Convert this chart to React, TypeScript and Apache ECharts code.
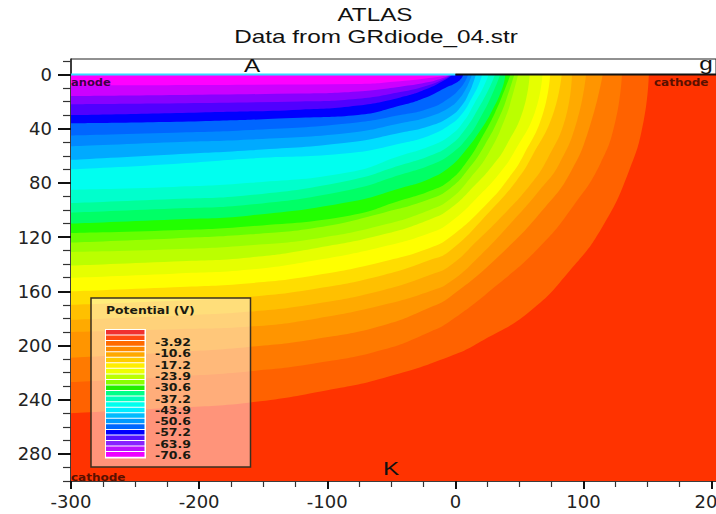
import React, { useEffect, useRef } from "react";
import * as echarts from "echarts";

// Axis ticks
const xMajorTicks = [-300, -200, -100, 0, 100, 200];
const xMinorTicks = [-275, -250, -225, -175, -150, -125, -75, -50, -25, 25, 50, 75, 125, 150, 175];
const yMajorTicks = [0, 40, 80, 120, 160, 200, 240, 280];
const yMinorTicks = [-10, 10, 20, 30, 50, 60, 70, 90, 100, 110, 130, 140, 150, 170, 180, 190, 210, 220, 230, 250, 260, 270, 290, 300];

// Substrate: whole device below the surface
const base = [[-300, 300], [203.4, 300]];

// Contour boundaries [x, depth], outermost first
const k0 = [[-300, 250], [-220, 246], [-160, 242], [-100, 233], [-56, 224], [-4, 208], [22, 196], [58, 175], [90, 144], [115, 112], [136, 70], [147, 34], [151, 0]];
const k1 = [[-300, 227], [-220, 223], [-160, 219], [-108, 213], [-56, 203], [-20, 190], [-4, 182], [33, 155], [66, 127], [92, 97], [113, 66], [125, 34], [130, 0]];
const k2 = [[-300, 209], [-220, 205], [-160, 201], [-108, 195], [-56, 185], [-20, 172], [-4, 164], [35, 133], [70, 98], [90, 72], [105, 38], [115, 0]];
const k3 = [[-300, 190], [-220, 188], [-160, 186], [-108, 180], [-56, 170], [-20, 160], [-4, 153], [20, 133], [43, 110], [66, 85], [81, 66], [95, 34], [102, 0]];
const k4 = [[-300, 181], [-220, 178], [-160, 175], [-108, 169], [-56, 159], [-20, 148], [-4, 141], [20, 120], [35, 106], [58, 82], [72, 62], [86, 32], [91, 0]];
const k5 = [[-300, 170], [-220, 167], [-160, 164], [-108, 158], [-56, 148], [-20, 137], [-4, 130], [27, 101], [48, 78], [60, 60], [76, 30], [83, 0]];
const k6 = [[-300, 160], [-220, 157], [-160, 154], [-108, 148], [-56, 138], [-20, 128], [-4, 120], [25, 95], [42, 76], [53, 60], [68, 30], [74, 0]];
const k7 = [[-300, 150], [-220, 147], [-160, 144], [-108, 137], [-56, 127], [-20, 117], [-4, 109], [20, 88], [36, 71], [46, 57], [62, 28], [68, 0]];
const k8 = [[-300, 141], [-220, 138], [-160, 135], [-108, 128], [-56, 118], [-20, 107], [-4, 99], [15, 82], [30, 66], [40, 52], [53, 26], [58, 0]];
const k9 = [[-300, 131], [-220, 129], [-160, 126], [-108, 121], [-56, 111], [-20, 100], [-4, 92], [12, 76], [26, 58], [39, 32], [45, 14], [49, 0]];
const k10 = [[-300, 124], [-220, 121], [-160, 118], [-108, 113], [-56, 102], [-20, 92], [-4, 84], [10, 70], [23, 52], [35, 30], [42, 12], [46, 0]];
const k11 = [[-300, 117], [-220, 115], [-160, 112], [-82, 104], [-43, 93], [-20, 86], [-4, 78], [10, 63], [21, 46], [31, 28], [39, 10], [43, 0]];
const k12 = [[-300, 110], [-220, 107], [-160, 104], [-82, 94], [-43, 84], [-20, 77], [-4, 68], [8, 56], [19, 42], [29, 26], [37, 9], [39, 0]];
const k13 = [[-300, 102], [-220, 99], [-160, 96], [-82, 85], [-43, 74], [-20, 67], [-4, 59], [10, 46], [20, 31], [29, 14], [35, 0]];
const k14 = [[-300, 95], [-220, 92], [-160, 89], [-82, 78], [-43, 67], [-20, 60], [-4, 52], [8, 40], [18, 25], [26, 11], [31, 0]];
const k15 = [[-300, 85], [-220, 83], [-160, 80], [-82, 72], [-43, 60], [-20, 53], [-4, 45], [7, 34], [15, 21], [22, 9], [26, 0]];
const k16 = [[-300, 70], [-220, 66], [-160, 62], [-82, 58], [-43, 51], [-20, 45], [-4, 37], [6, 28], [13, 17], [18, 8], [21, 0]];
const k17 = [[-300, 63], [-220, 59], [-160, 56], [-82, 50], [-43, 43], [-20, 38], [-4, 31], [5, 23], [11, 13], [14, 6], [16, 0]];
const k18 = [[-300, 53], [-220, 50], [-160, 48], [-82, 43], [-43, 36], [-20, 31], [-4, 24], [3, 18], [8, 11], [11, 5], [13, 0]];
const k19 = [[-300, 45], [-220, 43], [-160, 41], [-82, 36], [-43, 30], [-20, 25], [-4, 17], [3, 11], [7, 6], [10, 0]];
const k20 = [[-300, 36], [-199, 34.5], [-121, 32], [-76, 30], [-43, 23], [-23, 17], [-8, 10], [1, 6], [5, 2.5], [6, 0]];
const k21 = [[-300, 30], [-199, 28], [-121, 26], [-76, 23], [-43, 17], [-23, 11], [-8, 4], [-2, 0]];
const k22 = [[-300, 22], [-121, 20], [-76, 18], [-43, 13], [-23, 8.5], [-8, 3], [-3, 0]];
const k23 = [[-300, 16], [-121, 14], [-76, 12.5], [-43, 9], [-23, 6], [-8, 2], [-4, 0]];
const k24 = [[-300, 8], [-76, 7], [-43, 5], [-23, 3], [-8, 1], [-5, 0]];

const contours = [base, k0, k1, k2, k3, k4, k5, k6, k7, k8, k9, k10, k11, k12, k13, k14, k15, k16, k17, k18, k19, k20, k21, k22, k23, k24];
const bandColors = [
  "#ff3300", "#ff6200", "#ff7a00", "#ff9500", "#ffaa00", "#ffc000", "#ffdd00", "#ffff00", "#e6ff00", "#bbff00",
  "#99ff00", "#66ff00", "#22ff00", "#00ff66", "#00ff99", "#00ffcc", "#00fff0", "#00ddff", "#00aaff", "#0088ff",
  "#0066ff", "#0000ff", "#5000ff", "#8800ff", "#cc00ff", "#ff00ff",
];

// Electrode surface
const anodeLine = [[-300, 0], [0, 0]];
const cathodeLine = [[0, 0], [203.4, 0]];

// Legend
const legendLabels = ["-3.92", "-10.6", "-17.2", "-23.9", "-30.6", "-37.2", "-43.9", "-50.6", "-57.2", "-63.9", "-70.6"];
const legendColors = [
  "#f03030", "#ff4a10", "#ff6a00", "#ff8a00", "#ffa800", "#ffcc00", "#ffee00", "#eeff00", "#bbff00", "#88ff00",
  "#22ee00", "#00ff88", "#00ffbb", "#00ffee", "#00eeff", "#00bbff", "#0099ff", "#0066ff", "#0000ff", "#5511ff",
  "#8822ff", "#bb11ff", "#ee00ff",
];

const sansFont = "Liberation Sans";
const tickFont = "DejaVu Sans";
const legendFont = "DejaVu Sans";

const stretchedText = (text: string, x: number, y: number, size = 18) => ({
  type: "text",
  x,
  y,
  scaleX: 1.35,
  z: 100,
  style: { text, fill: "#111", font: `${size}px "${sansFont}"`, textAlign: "center", textVerticalAlign: "middle" },
});

const boldLabel = (text: string, x: number, y: number, fill: string, size = 10, scaleX = 1) => ({
  type: "text",
  x,
  y,
  scaleX,
  z: 100,
  style: { text, fill, font: `bold ${size}px "${legendFont}"`, textAlign: "left", textVerticalAlign: "middle" },
});

export default function App() {
  const ref = useRef<HTMLDivElement>(null);
  useEffect(() => {
    const chart = echarts.init(ref.current!, null, { renderer: "svg" });
    const sharedX = { type: "value", min: -300, max: 203.4, position: "bottom", splitLine: { show: false } };
    const sharedY = { type: "value", min: -11.4, max: 300, inverse: true, position: "left", splitLine: { show: false } };
    chart.setOption({
      animation: false,
      backgroundColor: "#fff",
      grid: {
        left: 71, right: 0, top: 59, bottom: 33, show: true, borderColor: "#222", borderWidth: 1,
        backgroundColor: "transparent", outerBoundsMode: "none", containLabel: false,
      },
      xAxis: [
        {
          ...sharedX,
          axisLine: { onZero: false, lineStyle: { color: "#222", width: 1.5 } },
          axisTick: { customValues: xMajorTicks, length: 8, lineStyle: { color: "#111", width: 2 } },
          axisLabel: { customValues: xMajorTicks, margin: 11, color: "#222", fontSize: 18, fontFamily: tickFont, hideOverlap: false },
        },
        {
          ...sharedX,
          axisLine: { show: false, onZero: false },
          axisTick: { customValues: xMinorTicks, length: 6, lineStyle: { color: "#333", width: 1.2 } },
          axisLabel: { show: false },
        },
      ],
      yAxis: [
        {
          ...sharedY,
          axisLine: { onZero: false, lineStyle: { color: "#222", width: 1.5 } },
          axisTick: { customValues: yMajorTicks, length: 13, lineStyle: { color: "#111", width: 2 } },
          axisLabel: { customValues: yMajorTicks, margin: 19, color: "#222", fontSize: 18, fontFamily: tickFont },
        },
        {
          ...sharedY,
          axisLine: { show: false, onZero: false },
          axisTick: { customValues: yMinorTicks, length: 8, lineStyle: { color: "#333", width: 1.2 } },
          axisLabel: { show: false },
        },
      ],
      series: [
        ...contours.map((data, i) => ({
          type: "line",
          name: `band${i}`,
          data,
          silent: true,
          symbol: "none",
          smooth: 0.5,
          lineStyle: { width: 0 },
          areaStyle: { color: bandColors[i], opacity: 1 },
          z: 2,
        })),
        { type: "line", data: anodeLine, symbol: "none", silent: true, lineStyle: { color: "#33ddff", width: 2 }, z: 3 },
        { type: "line", data: cathodeLine, symbol: "none", silent: true, lineStyle: { color: "#111", width: 2 }, z: 3 },
      ],
      graphic: [
        stretchedText("ATLAS", 375, 15),
        stretchedText("Data from GRdiode_04.str", 376, 37),
        stretchedText("A", 252, 66),
        stretchedText("g", 706, 64),
        stretchedText("K", 391, 469),
        boldLabel("anode", 71, 83, "#3a0048", 10, 1.15),
        boldLabel("cathode", 654, 83, "#5a1000", 10, 1.2),
        boldLabel("cathode", 71, 477.5, "#5a1000", 10, 1.2),
        {
          type: "rect",
          z: 90,
          shape: { x: 91, y: 298, width: 159.5, height: 169 },
          style: { fill: "rgba(255,255,255,0.48)", stroke: "#3a3020", lineWidth: 1.5 },
        },
        boldLabel("Potential (V)", 106, 310.5, "#1a1a10", 10.5, 1.18),
        {
          type: "rect",
          z: 91,
          shape: { x: 105, y: 329, width: 41, height: 129.5 },
          style: { fill: "#fff" },
        },
        ...legendColors.map((color, i) => ({
          type: "rect",
          z: 92,
          shape: { x: 106, y: 330 + i * 5.55, width: 38.5, height: 4.55 },
          style: { fill: color },
        })),
        ...legendLabels.map((label, i) => boldLabel(label, 155, 343 + i * 11.3, "#1a1a10", 10, 1.25)),
      ],
    });
    return () => chart.dispose();
  }, []);
  return <div ref={ref} style={{ position: "absolute", left: 0, top: 0, width: 716, height: 514 }} />;
}
